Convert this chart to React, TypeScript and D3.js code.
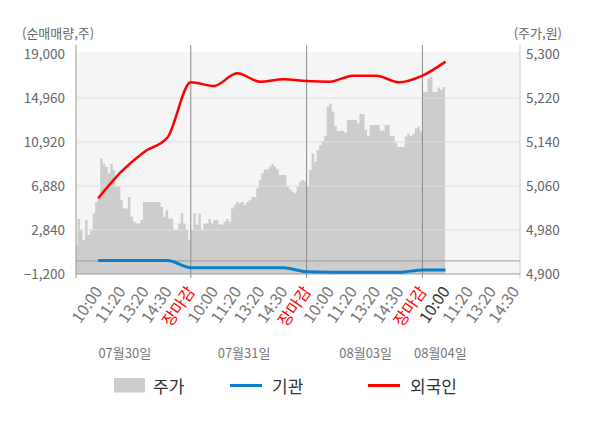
import React from 'react';
import * as d3 from 'd3';

const dayLabels = ['07월30일', '07월31일', '08월03일', '08월04일'];
const timeLabels = ['10:00', '11:20', '13:20', '14:30', '장마감'];
const leftTicks = [-1200, 2840, 6880, 10920, 14960, 19000];
const rightTicks = [4900, 4980, 5060, 5140, 5220, 5300];

const priceDay1 = [4951, 5000, 4980, 4962, 4998, 4971, 4980, 5010, 5031, 5040, 5110, 5101, 5095, 5083, 5100, 5089, 5059, 5059, 5034, 5019, 5019, 5040, 5004, 4995, 4992, 4992, 4998, 5031, 5031, 5031, 5031, 5031, 5031, 5031, 5022, 5004, 5016, 5001, 5001, 4980, 4980, 4992, 5011, 4992, 4980, 4962];
const priceDay2 = [4980, 5010, 4989, 5010, 4980, 4992, 4992, 5000, 4992, 4998, 4998, 4990, 4990, 4995, 5000, 4995, 5019, 5025, 5031, 5028, 5031, 5025, 5031, 5034, 5040, 5040, 5056, 5071, 5083, 5090, 5090, 5095, 5100, 5095, 5090, 5080, 5080, 5080, 5059, 5054, 5050, 5047, 5059, 5068, 5071, 5068];
const priceDay3 = [5059, 5089, 5119, 5104, 5125, 5134, 5142, 5151, 5204, 5210, 5195, 5169, 5160, 5160, 5160, 5157, 5180, 5180, 5180, 5180, 5174, 5191, 5191, 5162, 5151, 5171, 5171, 5171, 5171, 5161, 5161, 5171, 5171, 5151, 5151, 5140, 5131, 5131, 5131, 5150, 5155, 5151, 5155, 5165, 5168, 5159];
const priceDay4 = [5231, 5231, 5255, 5259, 5231, 5231, 5239, 5235, 5240];

const foreign = [5750, 8194, 10030, 11351, 16400, 16062, 17228, 16460, 16677, 16520, 16460, 17010, 17010, 16400, 17010, 18300];
const institution = [30, 30, 30, 30, -620, -620, -620, -620, -620, -1000, -1045, -1045, -1045, -1045, -830, -830];

// layout constants
const STEPS_PER_DAY = 46;
const SLOTS_PER_DAY = 5;
const TOTAL_SLOTS = 19;
const dateLabelPos = [0.43, 1.46, 2.51, 3.155];
const P = { left: 76, right: 520, top: 52, bottom: 274 };
const FONT = '"Noto Sans CJK KR", "Noto Sans", sans-serif';

export default function App() {
  const x = d3.scaleLinear().domain([0, 4]).range([75, 75 + 4 * 115.8]);
  const yL = d3.scaleLinear().domain([-1200, 19000]).range([274, 54]);
  const yR = d3.scaleLinear().domain([4900, 5300]).range([274, 54]);

  const priceDays = [priceDay1, priceDay2, priceDay3, priceDay4];
  const pricePts: [number, number][] = priceDays.flatMap((arr, d) =>
    arr.map((v, i) => [d + i / STEPS_PER_DAY, v] as [number, number])
  );
  pricePts.push([3 + priceDay4.length / STEPS_PER_DAY, priceDay4[priceDay4.length - 1]]);

  const area = d3
    .area<[number, number]>()
    .x((d) => x(d[0]))
    .y0(yR(4900))
    .y1((d) => yR(d[1]))
    .curve(d3.curveStepAfter);

  const slotX = (j: number) => x(j / SLOTS_PER_DAY);
  const lineL = d3
    .line<number>()
    .x((_, i) => slotX(i + 1))
    .y((v) => yL(v))
    .curve(d3.curveMonotoneX);

  const lastSlot = foreign.length;
  const slots = d3.range(1, TOTAL_SLOTS + 1);

  return (
    <svg width={600} height={428} style={{ display: 'block', fontFamily: FONT }}>
      <style>{`body{margin:0}`}</style>
      <defs>
        <clipPath id="plotclip">
          <rect x={P.left} y={P.top} width={P.right - P.left} height={P.bottom - P.top} />
        </clipPath>
      </defs>
      <rect x={0} y={0} width={600} height={428} fill="#fff" />
      <rect x={P.left} y={P.top} width={P.right - P.left} height={P.bottom - P.top} fill="#f5f5f5" />
      <path d={area(pricePts) || ''} fill="#cdcdcd" clipPath="url(#plotclip)" />
      {leftTicks.slice(1, -1).map((t) => (
        <line key={t} x1={P.left} x2={P.right} y1={yL(t)} y2={yL(t)} stroke="#e0e0e0" strokeWidth={1} />
      ))}
      <line x1={P.left} x2={P.right} y1={yL(0)} y2={yL(0)} stroke="#999" strokeWidth={1} />
      {[1, 2, 3].map((d) => (
        <line key={d} x1={x(d)} x2={x(d)} y1={45} y2={278} stroke="#8a8a8a" strokeWidth={1} />
      ))}
      <line x1={P.left} x2={P.left} y1={45} y2={278} stroke="#999" strokeWidth={1} />
      <line x1={P.right} x2={P.right} y1={45} y2={278} stroke="#ccc" strokeWidth={1} />
      <line x1={P.left} x2={P.right} y1={P.bottom} y2={P.bottom} stroke="#999" strokeWidth={1} />

      <path d={lineL(institution) || ''} fill="none" stroke="#0a7ecb" strokeWidth={3} />
      <path d={lineL(foreign) || ''} fill="none" stroke="#ff0000" strokeWidth={2.5} strokeLinejoin="round" />

      {leftTicks.map((t) => (
        <text key={t} x={65} y={yL(t)} dy="0.35em" textAnchor="end" fontSize={13.5} fill="#666">
          {d3.format(',')(t)}
        </text>
      ))}
      {rightTicks.map((t) => (
        <text key={t} x={526} y={yR(t)} dy="0.35em" textAnchor="start" fontSize={13.5} fill="#666">
          {d3.format(',')(t)}
        </text>
      ))}
      <text x={22} y={38} fontSize={13} fill="#666">(순매매량,주)</text>
      <text x={562} y={38} fontSize={13} fill="#666" textAnchor="end">(주가,원)</text>

      {slots.map((j) => {
        const label = timeLabels[(j - 1) % SLOTS_PER_DAY];
        const color = label === '장마감' ? '#ff0000' : j === lastSlot ? '#333' : '#777';
        return (
          <text
            key={j}
            transform={`translate(${slotX(j) + 5},${291.5}) rotate(-55)`}
            textAnchor="end"
            fontSize={16}
            fill={color}
          >
            {label}
          </text>
        );
      })}

      {dayLabels.map((l, i) => (
        <text key={l} x={x(dateLabelPos[i])} y={358} textAnchor="middle" fontSize={13} fill="#777">
          {l}
        </text>
      ))}

      <rect x={114} y={378} width={31} height={14.5} fill="#cdcdcd" />
      <text x={153} y={393} fontSize={17} fill="#333">주가</text>
      <line x1={230} x2={262} y1={385.5} y2={385.5} stroke="#0a7ecb" strokeWidth={3} />
      <text x={272} y={393} fontSize={17} fill="#333">기관</text>
      <line x1={368} x2={400} y1={385.5} y2={385.5} stroke="#ff0000" strokeWidth={3} />
      <text x={410} y={393} fontSize={17} fill="#333">외국인</text>
    </svg>
  );
}
